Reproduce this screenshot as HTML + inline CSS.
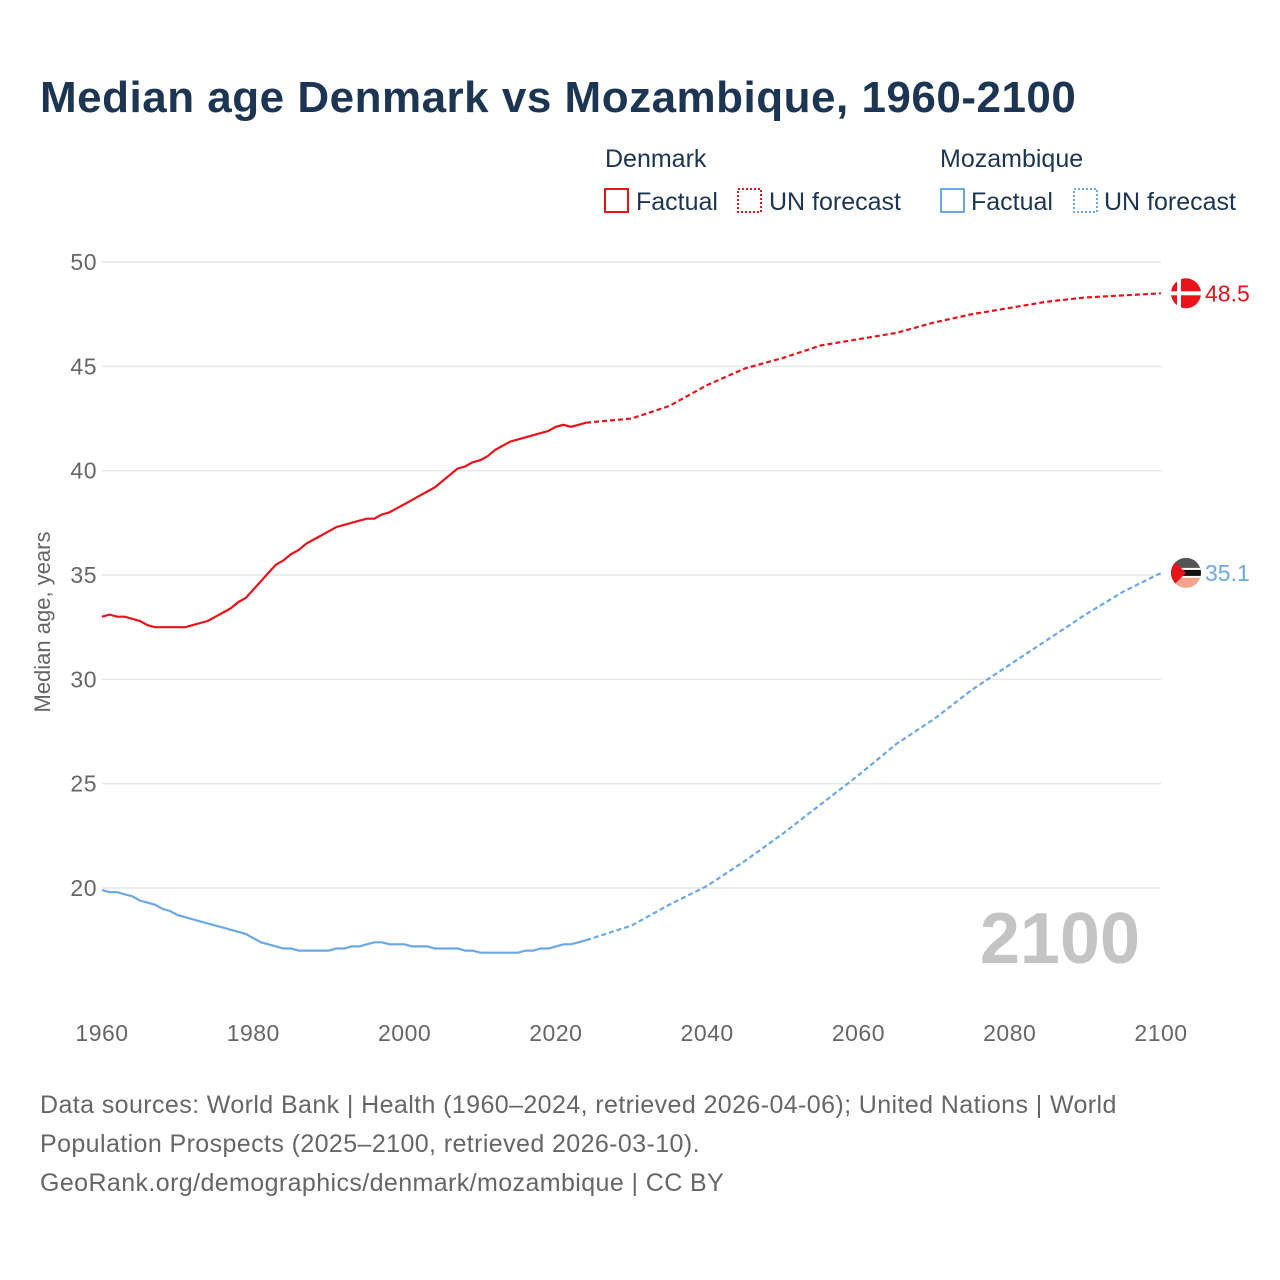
<!DOCTYPE html>
<html><head><meta charset="utf-8">
<style>
body{margin:0;background:#fff;font-family:"Liberation Sans",sans-serif;}
#wrap{position:relative;width:1280px;height:1280px;overflow:hidden;}
</style></head>
<body>
<div id="wrap">
<svg id="chart" width="1280" height="1280" xmlns="http://www.w3.org/2000/svg">
<text x="40" y="112" font-size="44" font-weight="bold" fill="#1b3552" letter-spacing="0.5">Median age Denmark vs Mozambique, 1960-2100</text>
<g font-size="25" fill="#1b3552">
<text x="605" y="167">Denmark</text>
<text x="940" y="167">Mozambique</text>
<rect x="605" y="189" width="23" height="23" fill="none" stroke="#e8131b" stroke-width="2"/>
<text x="636" y="210">Factual</text>
<rect x="738" y="189" width="23" height="23" fill="none" stroke="#e8131b" stroke-width="2" stroke-dasharray="2,2"/>
<text x="769" y="210">UN forecast</text>
<rect x="941" y="189" width="23" height="23" fill="none" stroke="#6aa8e8" stroke-width="2"/>
<text x="971" y="210">Factual</text>
<rect x="1074" y="189" width="23" height="23" fill="none" stroke="#6aa8e8" stroke-width="2" stroke-dasharray="2,2"/>
<text x="1104" y="210">UN forecast</text>
</g>
<text transform="translate(50,622) rotate(-90)" text-anchor="middle" font-size="22" fill="#666">Median age, years</text>
<g id="grid"></g><g id="marks"></g>
<text x="1140" y="963" text-anchor="end" font-size="72" font-weight="bold" fill="#c4c4c4">2100</text>
<g font-size="25" fill="#666" letter-spacing="0.4">
<text x="40" y="1113">Data sources: World Bank | Health (1960–2024, retrieved 2026-04-06); United Nations | World</text>
<text x="40" y="1152">Population Prospects (2025–2100, retrieved 2026-03-10).</text>
<text x="40" y="1191">GeoRank.org/demographics/denmark/mozambique | CC BY</text>
</g>
</svg>
</div>
<script>
const factYears=[1960,1961,1962,1963,1964,1965,1966,1967,1968,1969,1970,1971,1972,1973,1974,1975,1976,1977,1978,1979,1980,1981,1982,1983,1984,1985,1986,1987,1988,1989,1990,1991,1992,1993,1994,1995,1996,1997,1998,1999,2000,2001,2002,2003,2004,2005,2006,2007,2008,2009,2010,2011,2012,2013,2014,2015,2016,2017,2018,2019,2020,2021,2022,2023,2024];
const denFact=[33.0,33.1,33.0,33.0,32.9,32.8,32.6,32.5,32.5,32.5,32.5,32.5,32.6,32.7,32.8,33.0,33.2,33.4,33.7,33.9,34.3,34.7,35.1,35.5,35.7,36.0,36.2,36.5,36.7,36.9,37.1,37.3,37.4,37.5,37.6,37.7,37.7,37.9,38.0,38.2,38.4,38.6,38.8,39.0,39.2,39.5,39.8,40.1,40.2,40.4,40.5,40.7,41.0,41.2,41.4,41.5,41.6,41.7,41.8,41.9,42.1,42.2,42.1,42.2,42.3];
const mozFact=[19.9,19.8,19.8,19.7,19.6,19.4,19.3,19.2,19.0,18.9,18.7,18.6,18.5,18.4,18.3,18.2,18.1,18.0,17.9,17.8,17.6,17.4,17.3,17.2,17.1,17.1,17.0,17.0,17.0,17.0,17.0,17.1,17.1,17.2,17.2,17.3,17.4,17.4,17.3,17.3,17.3,17.2,17.2,17.2,17.1,17.1,17.1,17.1,17.0,17.0,16.9,16.9,16.9,16.9,16.9,16.9,17.0,17.0,17.1,17.1,17.2,17.3,17.3,17.4,17.5];
const fcYears=[2024,2030,2035,2040,2045,2050,2055,2060,2065,2070,2075,2080,2085,2090,2095,2100];
const denFc=[42.3,42.5,43.1,44.1,44.9,45.4,46.0,46.3,46.6,47.1,47.5,47.8,48.1,48.3,48.4,48.5];
const mozFc=[17.5,18.2,19.2,20.1,21.3,22.6,24.0,25.4,26.9,28.1,29.5,30.7,31.9,33.1,34.2,35.1];
const yTicks=[20,25,30,35,40,45,50];
const xTicks=[1960,1980,2000,2020,2040,2060,2080,2100];

const NS="http://www.w3.org/2000/svg";
const X=y=>102+(y-1960)*(1059/140);
const Y=v=>888-(v-20)*(626/30);
function mk(tag,attrs,parent){const e=document.createElementNS(NS,tag);for(const k in attrs)e.setAttribute(k,attrs[k]);parent.appendChild(e);return e;}
const grid=document.getElementById('grid'),marks=document.getElementById('marks');
yTicks.forEach(t=>{
 const l=mk('line',{x1:102,x2:1161,y1:Y(t),y2:Y(t),stroke:'#e6e6e6','stroke-width':1.5},grid);
 
 
 const tx=mk('text',{x:97,y:Y(t)+8,'text-anchor':'end','font-size':23,fill:'#666','letter-spacing':0.5},grid);
 tx.textContent=t;
 
 
});
xTicks.forEach(t=>{
 const tx=mk('text',{x:X(t),y:1041,'text-anchor':'middle','font-size':23,fill:'#666','letter-spacing':0.5},grid);
 tx.textContent=t;
 
 
});
function line(xs,vs,color,dash,name){
 const d=xs.map((x,i)=>(i?'L':'M')+X(x).toFixed(1)+','+Y(vs[i]).toFixed(1)).join(' ');
 const p=mk('path',{d:d,fill:'none',stroke:color,'stroke-width':2.2},marks);
 if(dash)p.setAttribute('stroke-dasharray','5,3');
 
 
}
line(factYears,denFact,'#e8131b',false,'denmark-factual-line');
line(fcYears,denFc,'#e8131b',true,'denmark-forecast-line');
line(factYears,mozFact,'#6aa8e8',false,'mozambique-factual-line');
line(fcYears,mozFc,'#6aa8e8',true,'mozambique-forecast-line');
const dv=denFc[denFc.length-1],mv=mozFc[mozFc.length-1];
const dy=Y(dv),my=Y(mv);
const df=mk('g',{},marks);


mk('circle',{cx:1186,cy:dy,r:15,fill:'#e8131b'},df);
mk('rect',{x:1177,y:dy-15,width:4,height:30,fill:'#fff'},df);
mk('rect',{x:1171,y:dy-2,width:30,height:4,fill:'#fff'},df);
const mf=mk('g',{},marks);


mk('clipPath',{id:'mc'},mf);
mk('circle',{cx:1186,cy:my,r:15},mf.lastChild);
const mg=mk('g',{'clip-path':'url(#mc)'},mf);
mk('rect',{x:1171,y:my-15,width:30,height:10,fill:'#555'},mg);
mk('rect',{x:1171,y:my-5,width:30,height:10,fill:'#111'},mg);
mk('rect',{x:1171,y:my-5,width:30,height:2,fill:'#fff'},mg);
mk('rect',{x:1171,y:my+3,width:30,height:2,fill:'#fff'},mg);
mk('rect',{x:1171,y:my+5,width:30,height:10,fill:'#f2a58c'},mg);
mk('polygon',{points:`1171,${my-15} 1186,${my} 1171,${my+15}`,fill:'#e8131b'},mg);
const dl=mk('text',{x:1205,y:dy+8,'font-size':23,fill:'#e8131b'},marks);
dl.textContent=dv.toFixed(1);


const ml=mk('text',{x:1205,y:my+8,'font-size':23,fill:'#6aa8e8'},marks);
ml.textContent=mv.toFixed(1);


</script>
</body></html>
